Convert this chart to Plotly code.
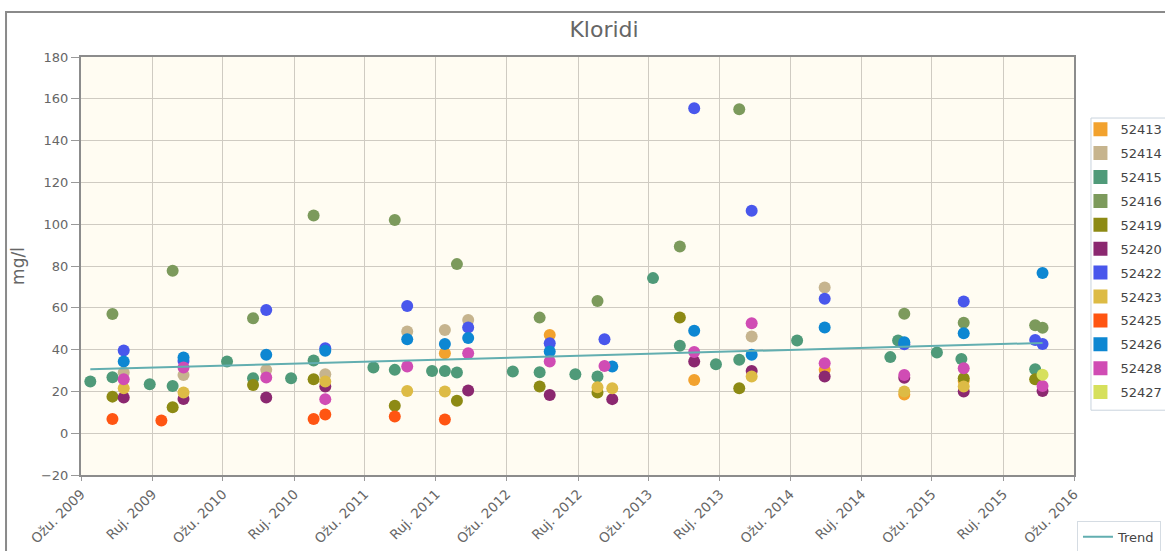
import plotly.graph_objects as go

# ---------------- data ----------------
series_names = ["52413", "52414", "52415", "52416", "52419", "52420",
                "52422", "52423", "52425", "52426", "52428", "52427"]

d_52413 = ["2011-09-24", "2012-06-20", "2013-06-27", "2014-05-29", "2014-12-20", "2015-05-22"]
v_52413 = [38.3, 47.0, 25.5, 30.3, 18.5, 25.0]

d_52414 = ["2009-06-19", "2009-11-20", "2010-06-21", "2010-11-20", "2011-06-19",
           "2011-09-24", "2011-11-23", "2013-11-22", "2014-05-29"]
v_52414 = [29.0, 27.9, 30.3, 28.2, 48.7, 49.4, 54.2, 46.3, 69.7]

d_52415 = ["2009-03-25", "2009-05-21", "2009-08-25", "2009-10-23", "2010-03-12",
           "2010-05-18", "2010-08-24", "2010-10-21", "2011-03-24", "2011-05-18",
           "2011-08-22", "2011-09-24", "2011-10-25", "2012-03-17", "2012-05-25",
           "2012-08-25", "2012-10-21", "2013-03-13", "2013-05-21", "2013-08-22",
           "2013-10-21", "2014-03-19", "2014-11-14", "2014-12-04", "2015-03-14",
           "2015-05-16", "2015-11-22"]
v_52415 = [24.7, 26.8, 23.4, 22.6, 34.3, 26.3, 26.3, 34.8, 31.4, 30.3,
           29.8, 29.8, 29.0, 29.5, 29.2, 28.2, 27.1, 74.2, 41.8, 33.0,
           35.1, 44.4, 36.4, 44.4, 38.6, 35.5, 30.6]

d_52416 = ["2009-05-21", "2009-10-23", "2010-05-18", "2010-10-21", "2011-05-18",
           "2011-10-25", "2012-05-25", "2012-10-21", "2013-05-21", "2013-10-21",
           "2014-12-20", "2015-05-22", "2015-11-22", "2015-12-11"]
v_52416 = [57.0, 77.7, 55.0, 104.2, 102.0, 80.9, 55.3, 63.3, 89.3, 155.0,
           57.1, 52.8, 51.6, 50.4]

d_52419 = ["2009-05-21", "2009-10-23", "2010-05-18", "2010-10-21", "2011-05-18",
           "2011-10-25", "2012-05-25", "2012-10-21", "2013-05-21", "2013-10-21",
           "2015-05-22", "2015-11-22"]
v_52419 = [17.5, 12.4, 23.1, 25.8, 13.1, 15.5, 22.3, 19.5, 55.4, 21.5, 26.3, 25.8]

d_52420 = ["2009-06-19", "2009-11-20", "2010-06-21", "2010-11-20", "2011-11-23",
           "2012-06-20", "2012-11-28", "2013-06-27", "2013-11-22", "2014-05-29",
           "2014-12-20", "2015-05-22", "2015-12-11"]
v_52420 = [17.1, 16.4, 17.1, 22.3, 20.4, 18.3, 16.3, 34.3, 29.8, 27.1, 26.5, 20.0, 20.2]

d_52422 = ["2009-06-19", "2009-11-20", "2010-06-21", "2010-11-20", "2011-06-19",
           "2011-11-23", "2012-06-20", "2012-11-08", "2013-06-27", "2013-11-22",
           "2014-05-29", "2014-12-20", "2015-05-22", "2015-11-22", "2015-12-11"]
v_52422 = [39.6, 34.5, 59.0, 40.7, 60.9, 50.6, 43.0, 45.0, 155.5, 106.4,
           64.3, 42.6, 63.0, 44.6, 42.7]

d_52423 = ["2009-06-19", "2009-11-20", "2010-11-20", "2011-06-19", "2011-09-24",
           "2012-10-21", "2012-11-28", "2013-11-22", "2014-12-20", "2015-05-22"]
v_52423 = [21.5, 19.5, 24.7, 20.2, 19.9, 22.0, 21.5, 27.1, 19.9, 22.3]

d_52425 = ["2009-05-21", "2009-09-24", "2010-10-21", "2010-11-20", "2011-05-18", "2011-09-24"]
v_52425 = [6.8, 6.1, 6.8, 9.0, 8.0, 6.6]

d_52426 = ["2009-06-19", "2009-11-20", "2010-06-21", "2010-11-20", "2011-06-19",
           "2011-09-24", "2011-11-23", "2012-06-20", "2012-11-28", "2013-06-27",
           "2013-11-22", "2014-05-29", "2014-12-20", "2015-05-22", "2015-12-11"]
v_52426 = [34.3, 36.2, 37.5, 39.5, 45.0, 42.7, 45.5, 39.1, 31.9, 49.0,
           37.5, 50.6, 43.5, 47.8, 76.6]

d_52428 = ["2009-06-19", "2009-11-20", "2010-06-21", "2010-11-20", "2011-06-19",
           "2011-11-23", "2012-06-20", "2012-11-08", "2013-06-27", "2013-11-22",
           "2014-05-29", "2014-12-20", "2015-05-22", "2015-12-11"]
v_52428 = [25.8, 31.4, 26.6, 16.3, 31.9, 38.3, 34.3, 32.2, 38.8, 52.6,
           33.5, 27.9, 31.1, 22.6]

d_52427 = ["2015-12-11"]
v_52427 = [28.0]

trend_dates = ["2009-03-25", "2015-12-11"]
trend_values = [30.6, 43.2]

tick_dates = ["2009-03-01", "2009-09-01", "2010-03-01", "2010-09-01", "2011-03-01",
              "2011-09-01", "2012-03-01", "2012-09-01", "2013-03-01", "2013-09-01",
              "2014-03-01", "2014-09-01", "2015-03-01", "2015-09-01", "2016-03-01"]
tick_labels = ["Ožu. 2009", "Ruj. 2009", "Ožu. 2010", "Ruj. 2010", "Ožu. 2011",
               "Ruj. 2011", "Ožu. 2012", "Ruj. 2012", "Ožu. 2013", "Ruj. 2013",
               "Ožu. 2014", "Ruj. 2014", "Ožu. 2015", "Ruj. 2015", "Ožu. 2016"]

series_dates = [d_52413, d_52414, d_52415, d_52416, d_52419, d_52420,
                d_52422, d_52423, d_52425, d_52426, d_52428, d_52427]
series_values = [v_52413, v_52414, v_52415, v_52416, v_52419, v_52420,
                 v_52422, v_52423, v_52425, v_52426, v_52428, v_52427]

colors = ["#F2A22E", "#C6B48E", "#4F9A79", "#7C9A5C", "#8D8A14", "#8B2870",
          "#4957EC", "#DDBB45", "#FF5512", "#0D87D2", "#D04CB4", "#D6E05C"]

# ---------------- figure ----------------
fig = go.Figure()

for name, xs, ys, col in zip(series_names, series_dates, series_values, colors):
    fig.add_trace(go.Scatter(
        x=xs, y=ys, mode="markers", name=name, legendgroup=name,
        showlegend=False,
        marker=dict(color=col, size=12, line=dict(width=0)),
    ))

# legend entries with square swatches
for name, col in zip(series_names, colors):
    fig.add_trace(go.Scatter(
        x=[None], y=[None], mode="markers", name=name, legendgroup=name,
        marker=dict(color=col, size=14, symbol="square"),
        legend="legend",
    ))

fig.add_trace(go.Scatter(
    x=trend_dates, y=trend_values, mode="lines", name="Trend",
    line=dict(color="#62AEB0", width=2), legend="legend2",
))

fig.update_layout(
    width=1165, height=551,
    margin=dict(l=81, r=91, t=57, b=76, autoexpand=False),
    paper_bgcolor="white",
    plot_bgcolor="#FFFCF2",
    font=dict(family="DejaVu Sans", size=12, color="#666666"),
    title=dict(text="Kloridi", x=0.5185, xanchor="center", y=0.947, yanchor="middle",
               font=dict(family="DejaVu Sans", size=22, color="#666666")),
    showlegend=True,
    legend=dict(
        x=1.0065, xanchor="left", y=0.863, yanchor="top",
        bgcolor="rgba(0,0,0,0)", borderwidth=0,
        font=dict(family="DejaVu Sans", size=13, color="#444444"),
        itemwidth=30, tracegroupgap=4, traceorder="grouped",
    ),
    legend2=dict(
        x=1.003, xanchor="left", y=-0.148, yanchor="middle",
        bgcolor="white", bordercolor="#D5DCE3", borderwidth=1,
        font=dict(family="DejaVu Sans", size=13, color="#444444"),
        itemwidth=30,
    ),
    xaxis=dict(
        type="date", range=["2009-03-01", "2016-03-01"],
        tickvals=tick_dates, ticktext=tick_labels, tickangle=-45,
        tickfont=dict(family="DejaVu Sans", size=13.5, color="#666666"),
        showgrid=True, gridcolor="#CFCBC2", gridwidth=1,
        ticks="outside", ticklen=4, tickcolor="#999999",
        showline=True, linecolor="#8C8C8C", linewidth=2, mirror=True,
        zeroline=False,
    ),
    yaxis=dict(
        range=[-20, 180], dtick=20, tick0=0,
        tickfont=dict(family="DejaVu Sans", size=13, color="#666666"),
        title=dict(text="mg/l", font=dict(family="DejaVu Sans", size=17, color="#666666"),
                   standoff=12),
        showgrid=True, gridcolor="#CFCBC2", gridwidth=1,
        ticks="outside", ticklen=8, tickcolor="#999999",
        showline=True, linecolor="#8C8C8C", linewidth=2, mirror=True,
        zeroline=False,
    ),
)

# outer chart frame
fig.add_shape(type="rect", xref="paper", yref="paper",
              x0=-0.0755, x1=1.2, y0=-0.3, y1=1.1077,
              line=dict(color="#8A8A8A", width=2), fillcolor="rgba(0,0,0,0)",
              layer="below")
# legend box
fig.add_shape(type="rect", xref="paper", yref="paper",
              x0=1.0171, x1=1.2, y0=0.155, y1=0.854,
              line=dict(color="#C9D3DD", width=1), fillcolor="white",
              layer="above")

fig.write_html("out.html", config={"displayModeBar": False},
               post_script="document.body.style.margin='0px';")
